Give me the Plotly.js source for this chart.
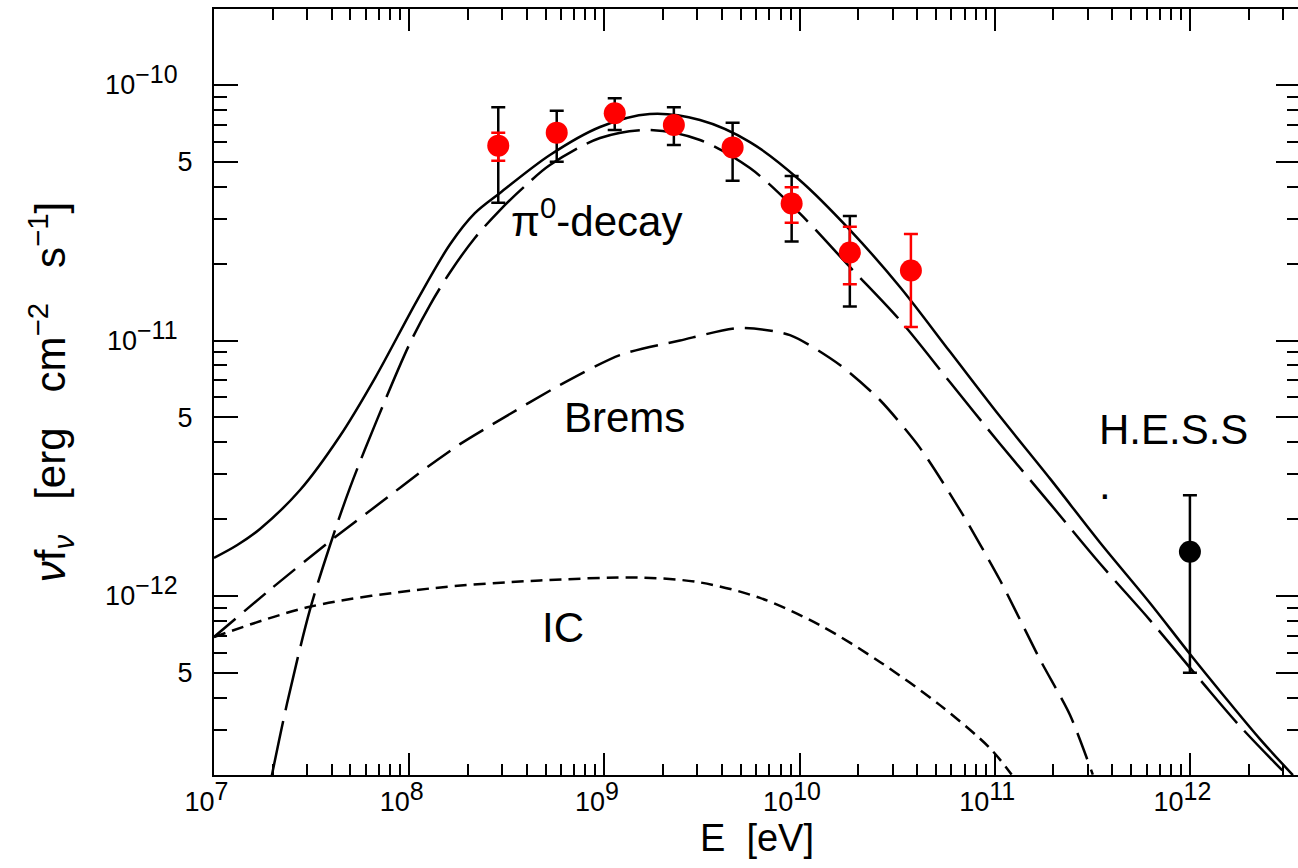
<!DOCTYPE html>
<html>
<head>
<meta charset="utf-8">
<script src="https://cdn.plot.ly/plotly-3.0.1.min.js"></script>
<style>
html, body { margin: 0; padding: 0; overflow: hidden; background: #fff; }
#chart { width: 1302px; height: 868px; }
</style>
</head>
<body>
<div id="chart"></div>
<script>
// ---- Data (energies in eV, fluxes nu f_nu in erg cm^-2 s^-1) ----
// Total model (solid)
var totalE = [1.00e7, 1.31e7, 1.72e7, 2.76e7, 4.42e7, 6.68e7, 1.10e8, 1.62e8, 2.17e8, 2.92e8, 5.26e8, 9.50e8, 1.71e9, 3.09e9, 5.57e9, 1.00e10, 1.81e10, 3.27e10, 5.89e10, 1.06e11, 1.92e11, 3.46e11, 6.24e11, 1.00e12, 1.48e12, 2.28e12, 3.37e12];
var totalF = [1.41e-12, 1.58e-12, 1.83e-12, 2.60e-12, 4.23e-12, 7.13e-12, 1.44e-11, 2.38e-11, 3.15e-11, 3.78e-11, 5.32e-11, 6.85e-11, 7.70e-11, 7.29e-11, 5.98e-11, 4.25e-11, 2.71e-11, 1.62e-11, 9.05e-12, 5.06e-12, 2.88e-12, 1.62e-12, 9.39e-13, 5.93e-13, 4.10e-13, 2.76e-13, 1.99e-13];
// pi0-decay (long dash)
var pionE = [1.98e7, 2.37e7, 3.10e7, 3.93e7, 4.97e7, 6.84e7, 1.01e8, 1.28e8, 1.62e8, 2.17e8, 2.92e8, 3.92e8, 5.26e8, 9.50e8, 1.71e9, 3.09e9, 5.57e9, 1.00e10, 1.81e10, 3.27e10, 5.89e10, 1.06e11, 1.92e11, 3.46e11, 6.24e11, 1.13e12, 1.80e12, 3.14e12];
var pionF = [1.99e-13, 3.81e-13, 8.82e-13, 1.58e-12, 2.65e-12, 4.89e-12, 9.78e-12, 1.38e-11, 1.85e-11, 2.52e-11, 3.24e-11, 4.02e-11, 4.86e-11, 6.20e-11, 6.67e-11, 6.09e-11, 4.73e-11, 3.15e-11, 1.94e-11, 1.20e-11, 6.88e-12, 3.95e-12, 2.30e-12, 1.34e-12, 8.05e-13, 4.69e-13, 3.10e-13, 1.99e-13];
// Bremsstrahlung (medium dash)
var bremsE = [1.0e7, 1.94e7, 3.93e7, 7.09e7, 1.18e8, 1.82e8, 2.92e8, 5.93e8, 1.20e9, 2.44e9, 4.95e9, 8.93e9, 1.61e10, 2.58e10, 4.14e10, 6.64e10, 1.06e11, 1.71e11, 2.43e11, 3.18e11];
var bremsF = [6.91e-13, 1.06e-12, 1.64e-12, 2.31e-12, 3.11e-12, 3.93e-12, 4.89e-12, 6.70e-12, 8.77e-12, 1.00e-11, 1.12e-11, 1.05e-11, 8.02e-12, 5.85e-12, 3.80e-12, 2.17e-12, 1.16e-12, 5.62e-13, 3.42e-13, 2.0e-13];
// Inverse Compton (short dash)
var icE = [1.0e7, 3.10e7, 1.28e8, 4.68e8, 1.52e9, 3.09e9, 6.27e9, 1.27e10, 2.58e10, 5.24e10, 9.44e10, 1.22e11];
var icF = [6.91e-13, 9.08e-13, 1.07e-12, 1.15e-12, 1.18e-12, 1.13e-12, 9.83e-13, 7.69e-13, 5.52e-13, 3.74e-13, 2.54e-13, 2.0e-13];

// Data points (red)
var ptE = [2.86e8, 5.70e8, 1.13e9, 2.27e9, 4.54e9, 9.11e9, 1.81e10, 3.72e10];
var ptF = [5.79e-11, 6.51e-11, 7.75e-11, 6.97e-11, 5.70e-11, 3.44e-11, 2.21e-11, 1.88e-11];
// black (total) error bar ends
var blackHi = [8.18e-11, 7.93e-11, 8.87e-11, 8.18e-11, 7.12e-11, 4.40e-11, 3.07e-11, null];
var blackLo = [3.46e-11, 5.01e-11, 6.67e-11, 5.82e-11, 4.22e-11, 2.44e-11, 1.36e-11, null];
// red (statistical) error bar ends
var redHi = [6.51e-11, null, null, null, null, 3.98e-11, 2.79e-11, 2.61e-11];
var redLo = [5.05e-11, null, null, null, null, 2.89e-11, 1.66e-11, 1.13e-11];

// H.E.S.S. point
var hessE = [1.0e12];
var hessF = [1.49e-12];
var hessHi = [2.48e-12];
var hessLo = [5.01e-13];

// Axis ticks
var xTickVals = [1e7, 1e8, 1e9, 1e10, 1e11, 1e12];
var xTickExp = ['7', '8', '9', '10', '11', '12'];
var yTickVals = [5e-13, 1e-12, 5e-12, 1e-11, 5e-11, 1e-10];
var yTickExp = [null, '\u221212', null, '\u221211', null, '\u221210'];

// ---- helpers ----
function plusArr(v, hi) { return v.map(function (d, i) { return hi[i] == null ? NaN : hi[i] - d; }); }
function minusArr(v, lo) { return v.map(function (d, i) { return lo[i] == null ? NaN : d - lo[i]; }); }
function pow10Label(e) { return '10<span style="font-size:25px;baseline-shift:45%">' + e + '</span>'; }

var xTickText = xTickExp.map(function (e) { return pow10Label(e) + '&nbsp;&nbsp;'; });
var yTickText = yTickExp.map(function (e) { return e == null ? '5' : pow10Label(e) + '&nbsp;&nbsp;'; });

var xMinor = [];
for (var p = 7; p <= 12; p++) { for (var m = 2; m <= 9; m++) { xMinor.push(m * Math.pow(10, p)); } }
var yMinor = [];
for (var q = -13; q <= -10; q++) { [2, 3, 4, 6, 7, 8, 9].forEach(function (m) { yMinor.push(m * Math.pow(10, q)); }); }

var LW = 2.5;
var SM = 0.9;
var traces = [
  { x: totalE, y: totalF, mode: 'lines', line: { color: '#000', width: LW, shape: 'spline', smoothing: SM }, hoverinfo: 'skip' },
  { x: pionE, y: pionF, mode: 'lines', line: { color: '#000', width: LW, dash: '55px,11px', shape: 'spline', smoothing: SM }, hoverinfo: 'skip' },
  { x: bremsE, y: bremsF, mode: 'lines', line: { color: '#000', width: LW, dash: '28px,11px', shape: 'spline', smoothing: 0.7 }, hoverinfo: 'skip' },
  { x: icE, y: icF, mode: 'lines', line: { color: '#000', width: LW, dash: '12px,7px', shape: 'spline', smoothing: SM }, hoverinfo: 'skip' },
  { x: ptE, y: ptF, mode: 'markers', marker: { size: 22, color: '#000', opacity: 0 },
    error_y: { type: 'data', symmetric: false, array: plusArr(ptF, blackHi), arrayminus: minusArr(ptF, blackLo), color: '#000', thickness: 2.5, width: 7 } },
  { x: ptE, y: ptF, mode: 'markers', marker: { size: 22, color: '#ff0000' },
    error_y: { type: 'data', symmetric: false, array: plusArr(ptF, redHi), arrayminus: minusArr(ptF, redLo), color: '#ff0000', thickness: 2.5, width: 7 } },
  { x: hessE, y: hessF, mode: 'markers', marker: { size: 22, color: '#000' },
    error_y: { type: 'data', symmetric: false, array: plusArr(hessF, hessHi), arrayminus: minusArr(hessF, hessLo), color: '#000', thickness: 2.5, width: 7 } }
];

var FONT = 'Liberation Sans, Arial, Helvetica, sans-serif';
var layout = {
  width: 1302, height: 868,
  margin: { l: 214, r: 2, t: 9, b: 93 },
  paper_bgcolor: '#fff', plot_bgcolor: '#fff',
  showlegend: false,
  font: { family: FONT, color: '#000' },
  xaxis: {
    type: 'log', range: [7, 12.564], showgrid: false, zeroline: false,
    showline: true, linecolor: '#000', linewidth: 2, mirror: 'allticks',
    ticks: 'inside', ticklen: 22, tickwidth: 2, tickcolor: '#000',
    tickmode: 'array', tickvals: xTickVals, ticktext: xTickText,
    tickfont: { size: 27, family: FONT, color: '#000' }, ticklabelstandoff: 2,
    minor: { tickmode: 'array', tickvals: xMinor, ticks: 'inside', ticklen: 11, tickwidth: 2, tickcolor: '#000', showgrid: false },
    title: { text: 'E&nbsp; [eV]', font: { size: 38, family: FONT, color: '#000' }, standoff: 8 }
  },
  yaxis: {
    type: 'log', range: [-12.7006, -9.7025], showgrid: false, zeroline: false,
    showline: true, linecolor: '#000', linewidth: 2, mirror: 'allticks',
    ticks: 'inside', ticklen: 24, tickwidth: 2, tickcolor: '#000',
    tickmode: 'array', tickvals: yTickVals, ticktext: yTickText,
    tickfont: { size: 27, family: FONT, color: '#000' }, ticklabelstandoff: 14,
    minor: { tickmode: 'array', tickvals: yMinor, ticks: 'inside', ticklen: 13, tickwidth: 2, tickcolor: '#000', showgrid: false },
    title: { text: '<i>\u03bd</i>f<sub><i>\u03bd</i></sub>&nbsp;&nbsp; [erg&nbsp;&nbsp; cm<sup>\u22122</sup>&nbsp;&nbsp; s<sup>\u22121</sup>]', font: { size: 42, family: FONT, color: '#000' }, standoff: 26 }
  },
  annotations: [
    { xref: 'x', yref: 'y', x: 8.512, y: -10.520, text: '\u03c0<sup>0</sup>-decay', showarrow: false, xanchor: 'left', yanchor: 'middle', font: { size: 42, family: FONT, color: '#000' } },
    { xref: 'x', yref: 'y', x: 8.783, y: -11.303, text: 'Brems', showarrow: false, xanchor: 'left', yanchor: 'middle', font: { size: 42, family: FONT, color: '#000' } },
    { xref: 'x', yref: 'y', x: 8.670, y: -12.125, text: 'IC', showarrow: false, xanchor: 'left', yanchor: 'middle', font: { size: 42, family: FONT, color: '#000' } },
    { xref: 'x', yref: 'y', x: 11.524, y: -11.249, text: 'H.E.S.S<br>.', showarrow: false, xanchor: 'left', yanchor: 'top', align: 'left', font: { size: 42, family: FONT, color: '#000' } }
  ]
};

Plotly.newPlot('chart', traces, layout, { displayModeBar: false, staticPlot: true });
</script>
</body>
</html>
